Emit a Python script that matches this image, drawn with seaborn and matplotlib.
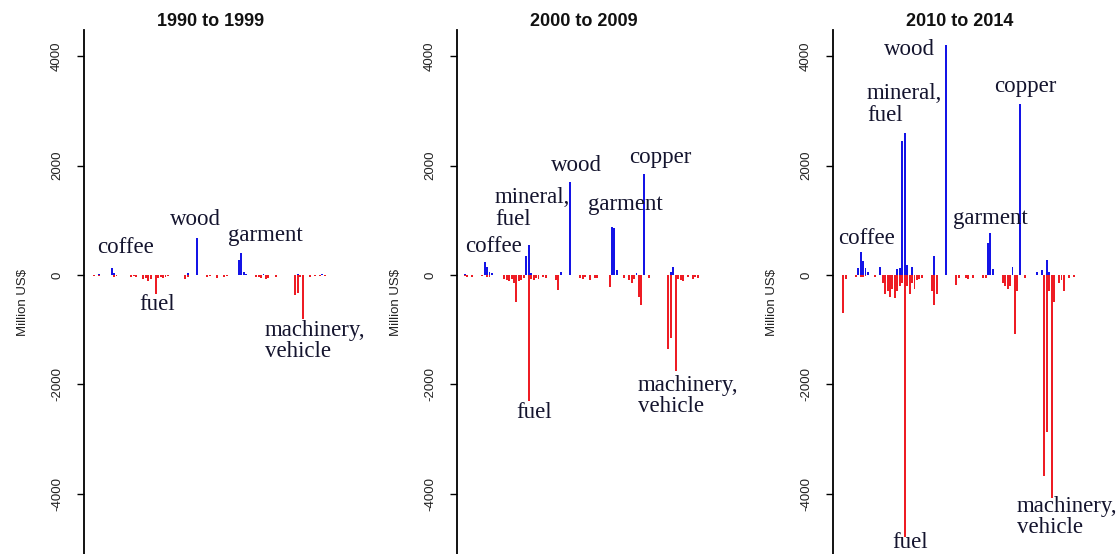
import pandas as pd
import matplotlib.pyplot as plt
import seaborn as sns

# Торговый баланс по главам ТН ВЭД (HS 01-97), млн долл. США
periods = ['1990 to 1999', '2000 to 2009', '2010 to 2014']
hs_chapters = [f'{c:02d}' for c in range(1, 98)]

# 1990-1999: экспорт (+) и импорт (-)
p1_exp_hs = [4, 9, 10, 40, 44, 61, 62, 63, 64, 71, 85, 95]
p1_exp_val = [20, 130, 40, 30, 680, 270, 400, 60, 20, 20, 20, 15]
p1_imp_hs = [2, 4, 10, 11, 17, 18, 19, 22, 23, 24, 25, 27, 28, 29, 30, 31, 32, 39, 40,
             48, 49, 52, 55, 56, 68, 69, 70, 72, 73, 76, 84, 85, 86, 87, 90, 92, 94, 96]
p1_imp_val = [-20, -15, -40, -20, -30, -25, -30, -80, -60, -120, -70, -350, -50, -40, -60, -30, -25, -70, -30,
              -30, -20, -60, -30, -20, -30, -40, -60, -70, -50, -30, -370, -330, -40, -800, -30, -15, -25, -20]

# 2000-2009
p2_exp_hs = [1, 9, 10, 11, 12, 26, 27, 28, 40, 44, 61, 62, 63, 71, 74, 85, 86]
p2_exp_val = [20, 240, 150, 60, 30, 350, 550, 40, 60, 1690, 870, 850, 80, 40, 1850, 60, 150]
p2_imp_hs = [1, 2, 4, 8, 10, 11, 17, 18, 19, 20, 21, 22, 23, 24, 25, 27, 28, 29, 30, 31, 33, 34, 38, 39,
             48, 49, 50, 52, 54, 55, 60, 66, 68, 69, 70, 72, 73, 76, 84, 85, 87, 88, 89, 90, 92, 94, 95, 96]
p2_imp_val = [-20, -40, -30, -20, -30, -40, -80, -100, -120, -80, -150, -490, -120, -100, -60, -2300, -80, -100,
              -60, -80, -40, -50, -100, -270, -60, -80, -40, -100, -50, -60, -230, -60, -100, -150, -80, -400,
              -550, -60, -1350, -1150, -1760, -80, -100, -120, -40, -80, -30, -50]

# 2010-2014
p3_exp_hs = [8, 9, 10, 11, 12, 17, 24, 25, 26, 27, 28, 30, 39, 44, 61, 62, 63, 71, 74, 81, 83, 85, 86]
p3_exp_val = [130, 420, 250, 120, 60, 150, 100, 120, 2450, 2600, 180, 150, 350, 4200, 580, 760, 100, 150,
              3130, 50, 80, 270, 60]
p3_imp_hs = [2, 3, 7, 9, 10, 11, 15, 18, 19, 20, 21, 22, 23, 24, 25, 26, 27, 28, 29, 30, 31, 32, 33, 34, 38,
             39, 40, 48, 49, 52, 53, 55, 59, 60, 67, 68, 69, 70, 72, 73, 76, 84, 85, 86, 87, 88, 90, 91, 92,
             94, 96]
p3_imp_val = [-700, -80, -30, -40, -30, -20, -40, -150, -350, -300, -400, -250, -420, -300, -200, -150, -4800,
              -200, -350, -150, -250, -100, -80, -60, -300, -550, -350, -180, -60, -60, -80, -50, -60, -50,
              -150, -200, -250, -200, -1080, -300, -60, -3680, -2880, -300, -4080, -500, -150, -100, -300,
              -60, -30]

exports = [(p1_exp_hs, p1_exp_val), (p2_exp_hs, p2_exp_val), (p3_exp_hs, p3_exp_val)]
imports = [(p1_imp_hs, p1_imp_val), (p2_imp_hs, p2_imp_val), (p3_imp_hs, p3_imp_val)]

# Подписи товарных групп: (текст, x, y, выравнивание)
notes = [
    [('coffee', 13.5, 494, 'center'), ('fuel', 26.5, -549, 'center'), ('wood', 42.4, 1006, 'center'),
     ('garment', 70.6, 714, 'center'), ('machinery,\nvehicle', 70.6, -1208, 'left')],
    [('coffee', 11.8, 512, 'center'), ('mineral,\nfuel', 12.2, 1208, 'left'), ('wood', 45.7, 1995, 'center'),
     ('garment', 65.3, 1281, 'center'), ('copper', 79.6, 2141, 'center'), ('fuel', 28.2, -2525, 'center'),
     ('machinery,\nvehicle', 70.6, -2214, 'left')],
    [('coffee', 10.2, 659, 'center'), ('mineral,\nfuel', 10.6, 3120, 'left'), ('wood', 27.8, 4118, 'center'),
     ('copper', 75.1, 3440, 'center'), ('garment', 60.8, 1025, 'center'), ('fuel', 28.2, -4900, 'center'),
     ('machinery,\nvehicle', 71.8, -4429, 'left')],
]

sns.set_theme(style='white')
plt.rcParams['font.family'] = ['Liberation Sans', 'DejaVu Sans']

BLUE = '#1414e6'
RED = '#ee1c24'

fig = plt.figure(figsize=(11.18, 5.54), dpi=100)
lefts = [84 / 1118, 457 / 1118, 833 / 1118]

for k in range(3):
    ax = fig.add_axes([lefts[k], -0.038, 254 / 1118, 0.984])
    e_hs, e_val = exports[k]
    i_hs, i_val = imports[k]
    df_e = pd.DataFrame({'hs': [f'{c:02d}' for c in e_hs], 'value': e_val})
    df_i = pd.DataFrame({'hs': [f'{c:02d}' for c in i_hs], 'value': i_val})
    sns.barplot(data=df_i, x='hs', y='value', order=hs_chapters, color=RED, saturation=1,
                width=0.8, errorbar=None, linewidth=0, ax=ax)
    sns.barplot(data=df_e, x='hs', y='value', order=hs_chapters, color=BLUE, saturation=1,
                width=0.8, errorbar=None, linewidth=0, ax=ax)

    ax.set_xlim(-3.27, 100.4)
    ax.set_ylim(-5490, 4480)
    for s in ['top', 'right', 'bottom']:
        ax.spines[s].set_visible(False)
    ax.spines['left'].set_color('black')
    ax.spines['left'].set_linewidth(1.3)
    ax.set_xticks([])
    ax.set_xlabel('')
    ax.set_yticks([-4000, -2000, 0, 2000, 4000])
    ax.set_yticklabels(['-4000', '-2000', '0', '2000', '4000'], rotation=90, va='center',
                       fontsize=9.5, color='#222222')
    ax.tick_params(axis='y', left=True, length=5, width=1, pad=10, color='black')
    ax.set_ylabel('Million US$', fontsize=9.5, color='#222222', labelpad=16)
    ax.set_title(periods[k], fontsize=13, fontweight='bold', pad=3, color='#111111')

    for label, x, y, ha in notes[k]:
        ax.text(x, y, label, ha=ha, va='center', family='Liberation Serif', fontsize=16.5,
                color='#14142e', linespacing=1.05, multialignment='left')

fig.savefig('out.png', dpi=100)
